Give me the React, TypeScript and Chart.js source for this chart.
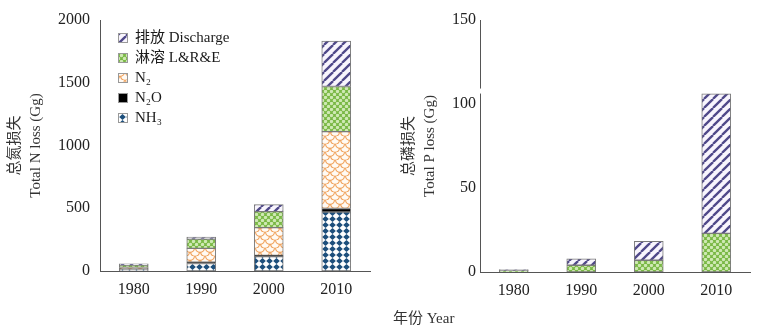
import React, { useEffect, useRef } from 'react';
import { Chart, registerables } from 'chart.js';
Chart.register(...registerables);

const FONT = "'Liberation Serif', 'Times New Roman', 'Noto Sans CJK SC', serif";

const years = ['1980', '1990', '2000', '2010'];
// Nitrogen loss (Gg)
const nNH3 = [15, 60, 115, 470];
const nN2O = [3, 10, 10, 28];
const nN2 = [10, 110, 220, 612];
const nLRE = [20, 75, 128, 360];
const nDischarge = [10, 15, 56, 362];
// Phosphorus loss (Gg)
const pLRE = [0.8, 4, 7, 23];
const pDischarge = [0.7, 3.8, 11.2, 83];

const nTicks = [0, 500, 1000, 1500, 2000];
const pTicks = [0, 50, 100, 150];

const labelNH3 = 'NH₃';
const labelN2O = 'N₂O';
const labelN2 = 'N₂';
const labelLRE = '淋溶 L&R&E';
const labelDis = '排放 Discharge';

function makePattern(w: number, h: number, draw: (g: CanvasRenderingContext2D) => void) {
  const c = document.createElement('canvas');
  c.width = w; c.height = h;
  const g = c.getContext('2d')!;
  draw(g);
  return g.createPattern(c, 'repeat')!;
}

function buildPatterns() {
  const dis = makePattern(9, 9, (g) => {
    g.fillStyle = '#f8f5fd'; g.fillRect(0, 0, 9, 9);
    g.strokeStyle = '#4f4889'; g.lineWidth = 2.3;
    for (const k of [-9, 0, 9]) { g.beginPath(); g.moveTo(k, 9); g.lineTo(k + 9, 0); g.stroke(); }
  });
  const lre = makePattern(6, 6, (g) => {
    g.fillStyle = '#79b845'; g.fillRect(0, 0, 6, 6);
    g.fillStyle = '#cfe9b4';
    for (const [x, y] of [[1.5, 1.5], [4.5, 4.5], [-1.5, 4.5], [7.5, 1.5]]) {
      g.beginPath(); g.arc(x, y, 1.7, 0, Math.PI * 2); g.fill();
    }
  });
  const n2 = makePattern(10, 8, (g) => {
    g.fillStyle = '#fffaf4'; g.fillRect(0, 0, 10, 8);
    g.strokeStyle = '#f0a35e'; g.lineWidth = 1.2;
    for (const [x, y] of [[0, 0], [10, 0], [5, 4], [0, 8], [10, 8]]) {
      g.beginPath(); g.arc(x, y, 4.4, 0, Math.PI); g.stroke();
    }
  });
  const nh3 = makePattern(7, 6, (g) => {
    g.fillStyle = '#ffffff'; g.fillRect(0, 0, 7, 6);
    g.fillStyle = '#1d4f7c';
    g.beginPath(); g.moveTo(3.5, 0); g.lineTo(6.8, 3); g.lineTo(3.5, 6); g.lineTo(0.2, 3); g.closePath(); g.fill();
  });
  return { dis, lre, n2, nh3, n2o: '#000000' };
}

const legendPlugin = {
  id: 'customLegend',
  afterDraw(chart: any) {
    const ctx = chart.ctx;
    const ds = chart.data.datasets.slice().reverse();
    ctx.save();
    ds.forEach((d: any, i: number) => {
      const y = 38 + i * 20;
      ctx.fillStyle = d.backgroundColor;
      ctx.fillRect(118, y - 5, 10, 10);
      ctx.strokeStyle = '#999'; ctx.lineWidth = 1;
      ctx.strokeRect(118.5, y - 4.5, 9, 9);
      ctx.fillStyle = '#1a1a1a';
      ctx.font = `15px ${FONT}`;
      ctx.textBaseline = 'middle';
      ctx.textAlign = 'left';
      ctx.fillText(d.label, 135, y);
    });
    ctx.restore();
  },
};

const breakPlugin = {
  id: 'axisBreak',
  afterDraw(chart: any) {
    const y = chart.scales.y.getPixelForValue(108);
    const x = chart.chartArea.left;
    const ctx = chart.ctx;
    ctx.save();
    ctx.fillStyle = '#ffffff';
    ctx.fillRect(x - 2, y - 2, 4, 5);
    ctx.restore();
  },
};

function makeConfig(datasets: any[], ticks: number[], title: string[], titlePad: number, tickPad: number, padRight: number, padBottom: number, plugins: any[]) {
  return {
    type: 'bar' as const,
    data: { labels: years, datasets },
    plugins,
    options: {
      animation: false as const,
      responsive: false,
      events: [],
      layout: { padding: { left: 0, top: 20, right: padRight, bottom: padBottom } },
      plugins: { legend: { display: false }, tooltip: { enabled: false } },
      scales: {
        x: {
          stacked: true,
          grid: { display: false, drawTicks: false },
          border: { display: true, color: '#555', width: 1 },
          ticks: { color: '#222', font: { family: FONT, size: 16 }, padding: 9 },
          afterFit: (s: any) => { s.height = 40; },
        },
        y: {
          stacked: true,
          min: ticks[0],
          max: ticks[ticks.length - 1],
          afterBuildTicks: (s: any) => { s.ticks = ticks.map((v) => ({ value: v })); },
          grid: { display: false, drawTicks: false },
          border: { display: true, color: '#555', width: 1 },
          ticks: { color: '#222', font: { family: FONT, size: 16 }, padding: tickPad, callback: (v: any) => String(v) },
          title: { display: true, text: title, color: '#333', font: { family: FONT, size: 15, lineHeight: 1.4 }, padding: { top: titlePad, bottom: 0 } },
          afterFit: (s: any) => { s.width = 100; },
        },
      },
    },
  };
}

const barStyle = { borderColor: '#7a7a7a', borderWidth: 1, borderSkipped: false, barThickness: 29 };

export default function App() {
  const leftRef = useRef<HTMLCanvasElement>(null);
  const rightRef = useRef<HTMLCanvasElement>(null);

  useEffect(() => {
    const pat = buildPatterns();
    const left = new Chart(leftRef.current!, makeConfig([
      { label: labelNH3, data: nNH3, backgroundColor: pat.nh3, ...barStyle },
      { label: labelN2O, data: nN2O, backgroundColor: pat.n2o, ...barStyle },
      { label: labelN2, data: nN2, backgroundColor: pat.n2, ...barStyle },
      { label: labelLRE, data: nLRE, backgroundColor: pat.lre, ...barStyle },
      { label: labelDis, data: nDischarge, backgroundColor: pat.dis, ...barStyle },
    ], nTicks, ['总氮损失', 'Total N loss (Gg)'], 5, 10, 10, 23, [legendPlugin]) as any);
    const right = new Chart(rightRef.current!, makeConfig([
      { label: labelLRE, data: pLRE, backgroundColor: pat.lre, ...barStyle },
      { label: labelDis, data: pDischarge, backgroundColor: pat.dis, ...barStyle },
    ], pTicks, ['总磷损失', 'Total P loss (Gg)'], 19, 4, 11, 22, [breakPlugin]) as any);
    return () => { left.destroy(); right.destroy(); };
  }, []);

  return (
    <div style={{ position: 'absolute', left: 0, top: 0, width: 761, height: 334, background: '#fff', overflow: 'hidden' }}>
      <canvas ref={leftRef} width={380} height={334} style={{ position: 'absolute', left: 0, top: 0, width: 380, height: 334 }} />
      <canvas ref={rightRef} width={381} height={334} style={{ position: 'absolute', left: 380, top: 0, width: 381, height: 334 }} />
      <div style={{ position: 'absolute', left: 393, top: 308, fontFamily: FONT, fontSize: 15, color: '#333', whiteSpace: 'nowrap', lineHeight: '20px' }}>年份 Year</div>
    </div>
  );
}
